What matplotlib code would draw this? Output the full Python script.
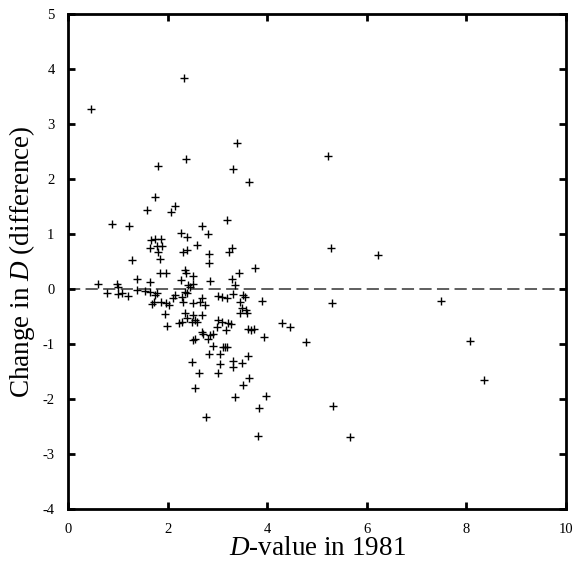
import matplotlib
matplotlib.use("Agg")
import matplotlib.pyplot as plt

x_1981 = [0.45, 2.32, 3.38, 2.36, 1.81, 3.31, 3.63, 1.74, 1.58, 2.14, 2.06, 3.19, 0.88, 1.22, 2.69,
          2.80, 2.26, 2.38, 1.67, 1.74, 1.87, 1.64, 1.78, 1.88, 2.59, 1.81, 1.85, 2.30, 2.38, 3.28,
          3.23, 2.82, 2.82, 3.76, 1.27, 1.38, 1.85, 1.97, 2.35, 2.36, 2.50, 2.26, 1.65, 2.84, 3.43,
          3.29, 3.34, 2.41, 2.50, 0.60, 0.97, 1.00, 2.44, 5.22, 5.27, 6.22,
          1.37, 1.54, 1.65, 0.78, 1.00, 1.07, 1.20, 1.74, 1.79, 1.69, 1.72, 1.87, 1.97, 2.03,
          2.14, 2.11, 2.28, 2.31, 2.34, 2.38, 2.51, 2.64, 2.74, 2.68, 3.01, 3.08, 3.18, 3.30,
          3.51, 3.55, 3.45, 3.90, 3.48, 3.45, 3.57, 3.59, 1.94, 1.99, 2.23, 2.28, 2.34, 2.38,
          2.51, 2.54, 2.58, 2.48, 2.68, 3.01, 3.08, 2.98, 3.21, 3.26, 3.17, 3.61, 3.68, 3.73,
          4.30, 4.45, 4.77, 3.93, 2.68, 2.71, 2.84, 2.91, 2.54, 2.51, 2.81, 2.90, 3.11, 3.15,
          3.18, 2.83, 3.05, 3.62, 2.49, 3.05, 3.31, 3.48, 3.31, 2.63, 3.00, 3.63, 3.51, 2.54,
          3.35, 3.98, 3.84, 2.76, 3.82, 5.30, 7.50, 8.08, 8.36, 5.31, 5.66]
change = [3.28, 3.83, 2.65, 2.36, 2.24, 2.18, 1.95, 1.67, 1.44, 1.51, 1.40, 1.26, 1.19, 1.14, 1.15,
          1.00, 1.01, 0.95, 0.89, 0.91, 0.91, 0.75, 0.79, 0.79, 0.80, 0.67, 0.55, 0.67, 0.71, 0.75,
          0.68, 0.63, 0.47, 0.38, 0.52, 0.18, 0.29, 0.30, 0.35, 0.30, 0.24, 0.16, 0.13, 0.14, 0.29,
          0.18, 0.08, 0.07, 0.10, 0.09, 0.09, 0.04, 0.04, 2.42, 0.75, 0.62,
          -0.02, -0.04, -0.05, -0.08, -0.09, -0.07, -0.13, -0.11, -0.08, -0.27, -0.23, -0.23, -0.26, -0.29,
          -0.11, -0.17, -0.14, -0.23, -0.05, -0.08, -0.26, -0.23, -0.29, -0.17, -0.13, -0.15, -0.17, -0.09,
          -0.11, -0.14, -0.23, -0.22, -0.35, -0.44, -0.38, -0.43, -0.46, -0.67, -0.62, -0.59, -0.44, -0.53,
          -0.47, -0.56, -0.59, -0.59, -0.47, -0.56, -0.59, -0.69, -0.62, -0.64, -0.75, -0.72, -0.75, -0.72,
          -0.62, -0.69, -0.96, -0.88, -0.78, -0.81, -0.84, -0.82, -0.90, -0.93, -0.90, -1.04, -1.05, -1.06,
          -1.05, -1.18, -1.18, -1.21, -1.33, -1.36, -1.31, -1.34, -1.42, -1.53, -1.53, -1.62, -1.75, -1.79,
          -1.97, -1.95, -2.16, -2.32, -2.67, -0.25, -0.22, -0.95, -1.66, -2.13, -2.69]

x_ticks = [0, 2, 4, 6, 8, 10]
y_ticks = [-4, -3, -2, -1, 0, 1, 2, 3, 4, 5]

plt.rcParams['font.family'] = ['Liberation Serif', 'DejaVu Serif']
plt.rcParams['mathtext.fontset'] = 'custom'
plt.rcParams['mathtext.rm'] = 'Liberation Serif'
plt.rcParams['mathtext.it'] = 'Liberation Serif:italic'

fig = plt.figure(figsize=(5.75, 5.72), dpi=100)
ax = fig.add_axes([0.119, 0.110, 0.865, 0.8655])

ax.plot([0, 10], [0, 0], color='#333333', lw=1.1, linestyle=(0, (8, 3.5)), zorder=1)
ax.plot(x_1981, change, linestyle='none', marker='+', color='black', markersize=6, mew=1.0, zorder=2)

ax.set_xlim(0, 10)
ax.set_ylim(-4, 5)
ax.set_xticks(x_ticks)
ax.set_yticks(y_ticks)
ax.set_xticklabels([str(t) for t in x_ticks])
ax.set_yticklabels([str(t) for t in y_ticks])
for s in ax.spines.values():
    s.set_linewidth(2)
ax.tick_params(direction='in', top=True, right=True, width=2, length=5, labelsize=10.5, pad=10)
ax.set_xlabel('$D$-value in 1981', fontsize=19.5, labelpad=0)
ax.set_ylabel('Change in $D$ (difference)', fontsize=19.5, labelpad=4)

fig.savefig('out.png', dpi=100)
